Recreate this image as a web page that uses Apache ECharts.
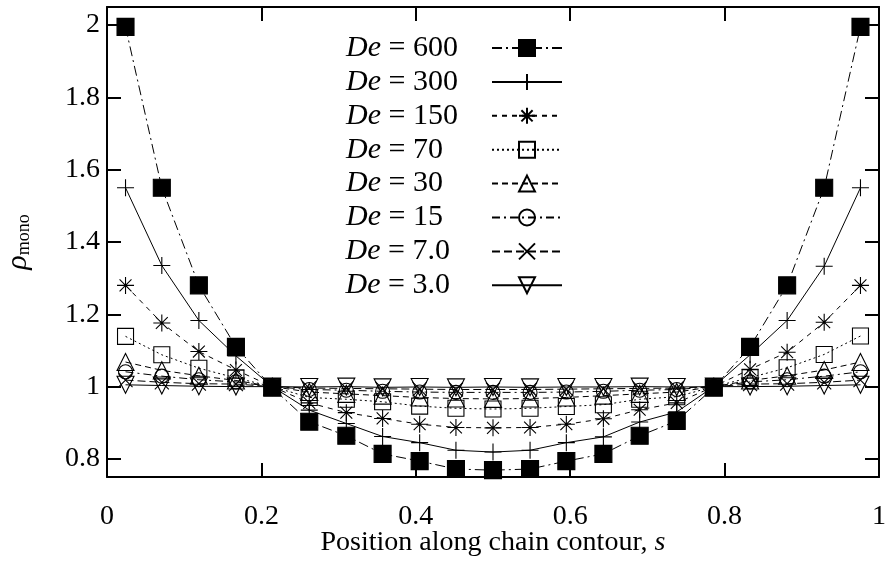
<!DOCTYPE html>
<html>
<head>
<meta charset="utf-8">
<script src="https://cdn.jsdelivr.net/npm/echarts@6/dist/echarts.min.js"></script>
<style>
html,body{margin:0;padding:0;background:#fff;}
#chart{width:885px;height:561px;}
</style>
</head>
<body>
<div id="chart"></div>
<script>
// Position along chain contour (x values)
const sValues = [0.024,0.071,0.119,0.167,0.214,0.262,0.310,0.357,0.405,0.452,0.500,0.548,0.595,0.643,0.690,0.738,0.786,0.833,0.881,0.929,0.976];

// rho_mono for each De
const de600 = [1.995,1.550,1.280,1.110,0.997,0.903,0.864,0.814,0.794,0.772,0.769,0.772,0.794,0.814,0.864,0.905,0.997,1.110,1.280,1.550,1.995];
const de300 = [1.550,1.335,1.183,1.085,1.000,0.935,0.898,0.862,0.845,0.824,0.819,0.824,0.845,0.861,0.902,0.930,1.000,1.088,1.183,1.333,1.550];
const de150 = [1.280,1.176,1.097,1.046,1.000,0.955,0.928,0.912,0.896,0.887,0.886,0.887,0.896,0.911,0.936,0.955,1.000,1.048,1.095,1.178,1.280];
const de70  = [1.139,1.088,1.051,1.024,1.000,0.970,0.965,0.958,0.946,0.940,0.938,0.940,0.945,0.950,0.965,0.972,1.000,1.025,1.052,1.089,1.140];
const de30  = [1.068,1.045,1.030,1.017,1.000,0.985,0.980,0.975,0.970,0.967,0.966,0.967,0.970,0.975,0.980,0.985,1.000,1.017,1.030,1.046,1.068];
const de15  = [1.041,1.029,1.019,1.013,1.000,0.992,0.990,0.987,0.985,0.984,0.984,0.984,0.985,0.987,0.990,0.992,1.000,1.013,1.019,1.029,1.041];
const de7   = [1.018,1.012,1.008,1.007,1.000,0.996,0.995,0.994,0.993,0.992,0.992,0.992,0.993,0.994,0.995,0.996,1.000,1.007,1.008,1.012,1.018];
const de3   = [1.005,1.003,1.001,1.000,1.000,0.999,1.000,0.998,0.999,0.998,0.999,0.998,0.999,0.999,1.000,0.999,1.000,1.000,1.001,1.003,1.005];

const deLabels = ['600','300','150','70','30','15','7.0','3.0'];
const xTicks = [0,0.2,0.4,0.6,0.8,1];
const yTicks = [0.8,1,1.2,1.4,1.6,1.8,2];

const FONT = 'Liberation Serif';
const allData = [de600,de300,de150,de70,de30,de15,de7,de3];

const symbols = [
  'rect',
  'path://M0,5L10,5M5,0L5,10',
  'path://M0,5L10,5M5,0L5,10M1.5,1.5L8.5,8.5M8.5,1.5L1.5,8.5',
  'rect',
  'triangle',
  'circle',
  'path://M0,0L10,10M10,0L0,10',
  'path://M0,0L10,0L5,8.66Z'
];
const symbolSizes = [17,17,17,16,17,14,14,17];
const fills = ['#000','none','none','none','none','none','none','none'];
const dashes = [[10,4,2,4],'solid',[5,5],[2,3],[6,4],[8,4,2,4],[8,4],'solid'];

// measure text to keep legend text left-aligned while icons sit on the right
const LFS = 30;
const cv = document.createElement('canvas').getContext('2d');
cv.font = 'italic ' + LFS + 'px "' + FONT + '"';
const deW = cv.measureText('De').width;
cv.font = LFS + 'px "' + FONT + '"';
const TEXT_BOX = 141;
function padFor(txt){ return Math.max(1, Math.round(TEXT_BOX - deW - cv.measureText(txt).width)); }

const series = allData.map(function(arr, k){
  return {
    name: 'De = ' + deLabels[k],
    type: 'line',
    data: arr.map(function(v,i){ return [sValues[i], v]; }),
    symbol: symbols[k],
    symbolSize: symbolSizes[k],
    showAllSymbol: true,
    lineStyle: {color:'#000', width:1, type: dashes[k]},
    itemStyle: {color: fills[k], borderColor:'#000', borderWidth:1.1},
    emphasis: {disabled:true},
    z: 10 - k
  };
});

const richLegend = {
  i: {fontFamily: FONT, fontStyle:'italic', fontSize:LFS, lineHeight:30, color:'#000'},
  n: {fontFamily: FONT, fontSize:LFS, lineHeight:30, color:'#000'}
};
deLabels.forEach(function(l, k){
  richLegend['p' + k] = {width: padFor(' = ' + l), lineHeight:30};
});

const axisLineStyle = {color:'#000', width:2};
const chart = echarts.init(document.getElementById('chart'));
chart.setOption({
  animation: false,
  backgroundColor: '#fff',
  grid: {left:107, right:6, top:7, bottom:84, containLabel:false, outerBoundsMode:'none'},
  legend: {
    orient: 'vertical',
    right: 322,
    top: 33,
    padding: 0,
    align: 'right',
    itemWidth: 70,
    itemHeight: 20,
    itemGap: 3.9,
    selectedMode: false,
    data: series.map(function(s){return s.name;}),
    formatter: function(name){
      const l = name.replace('De = ','');
      const k = deLabels.indexOf(l);
      return '{i|De}{n| = ' + l + '}{p' + k + '|}';
    },
    textStyle: {color:'#000', rich: richLegend}
  },
  xAxis: [{
    type:'value', min:0, max:1, interval:0.2, position:'bottom',
    axisLine:{show:true, onZero:false, lineStyle:axisLineStyle},
    axisTick:{show:true, inside:true, length:14, lineStyle:{color:'#000', width:2}},
    axisLabel:{fontFamily:FONT, fontSize:28, color:'#000', margin:26,
      customValues: xTicks,
      formatter:function(v){return String(v);}},
    splitLine:{show:false},
    name:'Position along chain contour, {s|s}',
    nameLocation:'middle', nameGap:52, nameMoveOverlap:false,
    nameTextStyle:{fontFamily:FONT, fontSize:28, color:'#000',
      rich:{s:{fontFamily:FONT, fontStyle:'italic', fontSize:28, color:'#000'}}}
  },{
    type:'value', min:0, max:1, interval:0.2, position:'top',
    axisLine:{show:true, onZero:false, lineStyle:axisLineStyle},
    axisTick:{show:true, inside:true, length:14, lineStyle:{color:'#000', width:2}},
    axisLabel:{show:false}, splitLine:{show:false}
  }],
  yAxis: [{
    type:'value', min:0.75, max:2.05, position:'left',
    axisLine:{show:true, onZero:false, lineStyle:axisLineStyle},
    axisTick:{show:true, inside:true, length:14, customValues:yTicks, lineStyle:{color:'#000', width:2}},
    axisLabel:{fontFamily:FONT, fontSize:28, color:'#000', margin:7, customValues:yTicks,
      formatter:function(v){return String(Math.round(v*10)/10);}},
    splitLine:{show:false},
    name:'{r|ρ}{m|mono}',
    nameLocation:'middle', nameGap:74, nameRotate:90, nameMoveOverlap:false,
    nameTextStyle:{
      rich:{
        r:{fontFamily:FONT, fontStyle:'italic', fontSize:30, lineHeight:30, verticalAlign:'middle', color:'#000'},
        m:{fontFamily:FONT, fontSize:18, lineHeight:14, verticalAlign:'bottom', color:'#000'}
      }
    }
  },{
    type:'value', min:0.75, max:2.05, position:'right',
    axisLine:{show:true, onZero:false, lineStyle:axisLineStyle},
    axisTick:{show:true, inside:true, length:14, customValues:yTicks, lineStyle:{color:'#000', width:2}},
    axisLabel:{show:false}, splitLine:{show:false}
  }],
  series: series
});
</script>
</body>
</html>
